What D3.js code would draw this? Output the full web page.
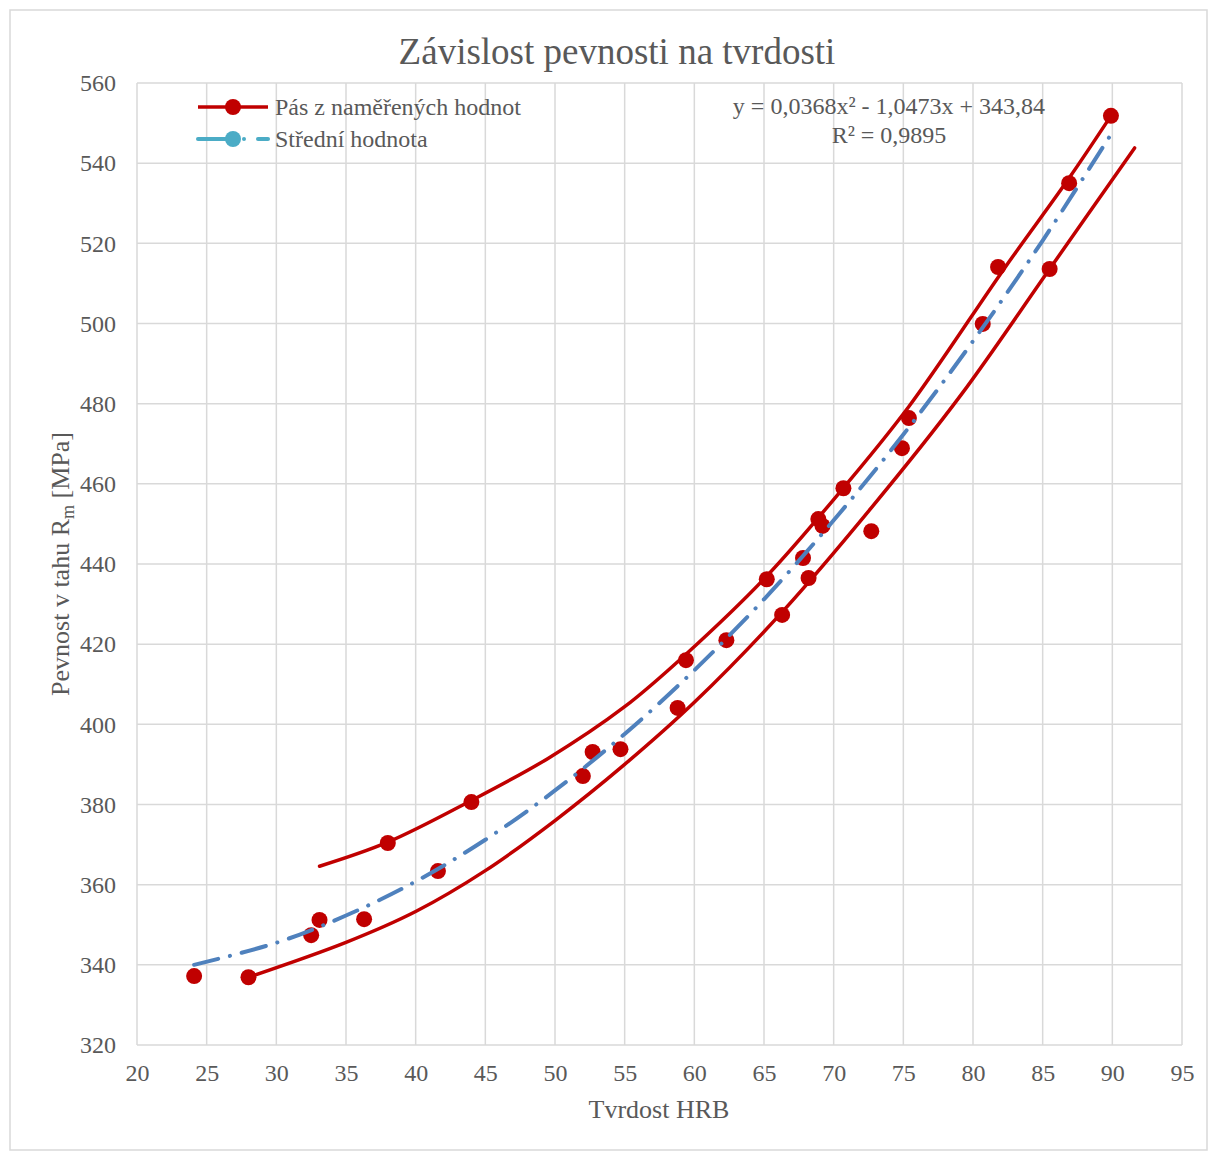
<!DOCTYPE html>
<html>
  <head>
    <meta charset="utf-8">
    <title>Závislost pevnosti na tvrdosti</title>
    <script src="https://d3js.org/d3.v7.min.js"></script>
    <style>
      body { margin: 0; background: #fff; }
      text { font-family: "Liberation Serif", "Times New Roman", serif; fill: #595959; }
    </style>
  </head>
  <body>
  <script type="text/javascript">
    // measured points (HRB, Rm)
    var hrb = [24.1, 28.0, 32.5, 33.1, 36.3, 38.0, 41.6, 44.0, 52.0, 52.7, 54.7, 58.8, 59.4, 62.3, 65.2,
               66.3, 67.8, 68.2, 68.9, 69.2, 70.7, 72.7, 74.9, 75.4, 80.7, 81.8, 85.5, 86.9, 89.9];
    var rm = [337.2, 336.9, 347.4, 351.2, 351.4, 370.4, 363.4, 380.6, 387.1, 393.1, 393.8, 404.1, 416.0, 421.0, 436.2,
              427.3, 441.5, 436.5, 451.2, 449.5, 458.9, 448.2, 468.9, 476.4, 499.9, 514.1, 513.6, 535.0, 551.8];

    // band curves
    var upperX = [33.1, 38.0, 44.0, 49.5, 55.0, 59.4, 65.2, 70.7, 75.4, 82.3, 86.9, 89.9];
    var upperY = [364.6, 370.6, 381.0, 391.5, 404.4, 417.5, 437.0, 459.0, 479.3, 514.0, 536.3, 551.8];
    var lowerX = [28.0, 35.0, 40.0, 45.0, 50.0, 55.0, 60.0, 66.3, 72.7, 79.1, 85.5, 91.6];
    var lowerY = [336.9, 345.6, 353.3, 363.5, 376.0, 390.0, 405.5, 428.0, 454.0, 482.0, 513.6, 543.8];

    // trendline (Střední hodnota)
    var trendX = [24.1, 30, 35, 40, 45, 50, 55, 60, 65, 70, 75, 80, 85, 90];
    var trendY = [340.0, 345.5, 352.3, 360.8, 371.2, 383.5, 397.6, 413.5, 431.2, 450.9, 472.3, 495.6, 520.7, 547.7];

    var xTicks = d3.range(20, 96, 5);
    var yTicks = d3.range(320, 561, 20);

    var title = "Závislost pevnosti na tvrdosti";
    var xTitle = "Tvrdost HRB";
    var legendNames = ["Pás z naměřených hodnot", "Střední hodnota"];
    var eqText = "y = 0,0368x² - 1,0473x + 343,84";
    var r2Text = "R² = 0,9895";

    var W = 1212, H = 1157;
    var pLeft = 137, pRight = 1182, pTop = 83, pBottom = 1045;

    var svg = d3.select("body").append("svg")
      .attr("width", W).attr("height", H);

    svg.append("rect")
      .attr("x", 10).attr("y", 10)
      .attr("width", 1197).attr("height", 1140)
      .attr("fill", "#fff")
      .attr("stroke", "#d9d9d9").attr("stroke-width", 1.5);

    var x = d3.scaleLinear().domain([20, 95]).range([pLeft, pRight]);
    var y = d3.scaleLinear().domain([320, 560]).range([pBottom, pTop]);

    // grid
    var grid = svg.append("g");
    grid.selectAll(".vg").data(xTicks).enter().append("line")
      .attr("x1", function(d){ return x(d); }).attr("x2", function(d){ return x(d); })
      .attr("y1", pTop).attr("y2", pBottom)
      .attr("stroke", "#d9d9d9").attr("stroke-width", 1.5);
    grid.selectAll(".hg").data(yTicks).enter().append("line")
      .attr("y1", function(d){ return y(d); }).attr("y2", function(d){ return y(d); })
      .attr("x1", pLeft).attr("x2", pRight)
      .attr("stroke", "#d9d9d9").attr("stroke-width", 1.5);

    // axes via d3.axis, styled as plain labels
    var xAxis = svg.append("g")
      .attr("transform", "translate(0," + pBottom + ")")
      .call(d3.axisBottom(x).tickValues(xTicks).tickSize(0).tickPadding(19));
    var yAxis = svg.append("g")
      .attr("transform", "translate(" + pLeft + ",0)")
      .call(d3.axisLeft(y).tickValues(yTicks).tickSize(0).tickPadding(21));
    [xAxis, yAxis].forEach(function(a){
      a.select(".domain").remove();
      a.selectAll("text")
        .style("font-family", "'Liberation Serif', serif")
        .style("font-size", "24px")
        .attr("fill", "#595959");
    });

    // title
    svg.append("text")
      .attr("x", 617).attr("y", 64)
      .attr("text-anchor", "middle")
      .style("font-size", "37px")
      .text(title);

    svg.append("text")
      .attr("x", 659).attr("y", 1118)
      .attr("text-anchor", "middle")
      .style("font-size", "26px")
      .text(xTitle);

    var yt = svg.append("text")
      .attr("transform", "translate(69," + ((pTop + pBottom) / 2) + ") rotate(-90)")
      .attr("text-anchor", "middle")
      .style("font-size", "26px");
    yt.append("tspan").text("Pevnost v tahu R");
    yt.append("tspan").attr("dy", 5).style("font-size", "18px").text("m");
    yt.append("tspan").attr("dy", -5).text(" [MPa]");

    var red = "#c00000";
    var line = d3.line()
      .x(function(d){ return x(d[0]); })
      .y(function(d){ return y(d[1]); })
      .curve(d3.curveCatmullRom.alpha(0.5));

    var upper = upperX.map(function(v, i){ return [v, upperY[i]]; });
    var lower = lowerX.map(function(v, i){ return [v, lowerY[i]]; });
    var trend = trendX.map(function(v, i){ return [v, trendY[i]]; });
    var pts = hrb.map(function(v, i){ return [v, rm[i]]; });

    svg.selectAll(".band").data([upper, lower]).enter().append("path")
      .attr("d", line)
      .attr("fill", "none")
      .attr("stroke", red).attr("stroke-width", 3.5)
      .attr("stroke-linecap", "round");

    svg.selectAll(".pt").data(pts).enter().append("circle")
      .attr("cx", function(d){ return x(d[0]); })
      .attr("cy", function(d){ return y(d[1]); })
      .attr("r", 8)
      .attr("fill", red);

    svg.append("path")
      .attr("d", line(trend))
      .attr("fill", "none")
      .attr("stroke", "#4f81bd").attr("stroke-width", 4)
      .attr("stroke-linecap", "round")
      .attr("stroke-dasharray", "25 12 0.1 12");

    // legend
    svg.append("line")
      .attr("x1", 198).attr("x2", 268).attr("y1", 107).attr("y2", 107)
      .attr("stroke", red).attr("stroke-width", 3.5);
    svg.append("circle").attr("cx", 233).attr("cy", 107).attr("r", 8).attr("fill", red);
    var teal = "#4bacc6";
    svg.append("line")
      .attr("x1", 198).attr("x2", 233).attr("y1", 139).attr("y2", 139)
      .attr("stroke", teal).attr("stroke-width", 4).attr("stroke-linecap", "round");
    svg.append("circle").attr("cx", 233).attr("cy", 139).attr("r", 8).attr("fill", teal);
    svg.append("circle").attr("cx", 244).attr("cy", 139).attr("r", 2).attr("fill", teal);
    svg.append("line")
      .attr("x1", 258).attr("x2", 268).attr("y1", 139).attr("y2", 139)
      .attr("stroke", teal).attr("stroke-width", 4).attr("stroke-linecap", "round");
    svg.selectAll(".lg").data(legendNames).enter().append("text")
      .attr("x", 275)
      .attr("y", function(d, i){ return 115 + i * 32; })
      .style("font-size", "24px")
      .text(function(d){ return d; });

    // equation
    svg.append("text").attr("x", 889).attr("y", 114)
      .attr("text-anchor", "middle").style("font-size", "24px").text(eqText);
    svg.append("text").attr("x", 889).attr("y", 143)
      .attr("text-anchor", "middle").style("font-size", "24px").text(r2Text);
  </script>
  </body>
</html>
